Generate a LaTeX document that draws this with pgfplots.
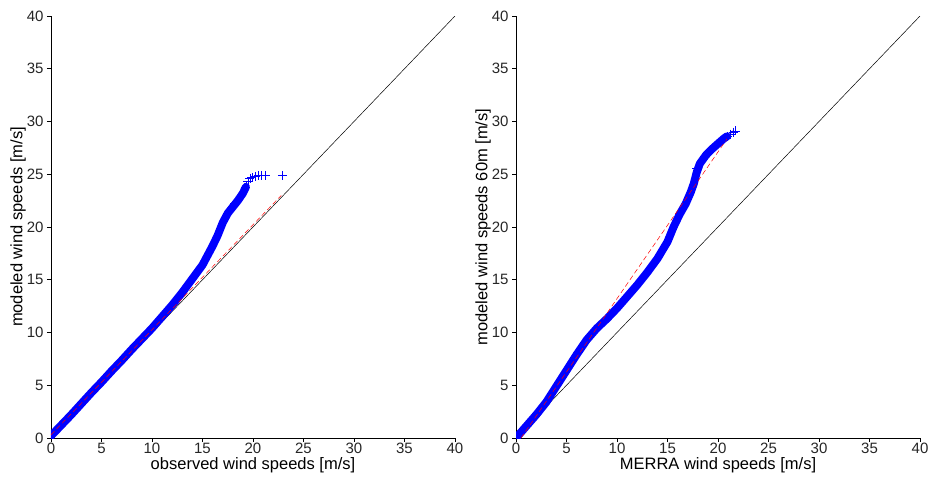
\documentclass[border=0pt]{standalone}
\usepackage{pgfplots}
\pgfplotsset{compat=1.18}
\usepackage{fontspec}
\setmainfont{Liberation Sans}

\pgfplotsset{
  qqstyle/.style={
    scale only axis,
    width=404pt, height=422pt,
    xmin=0, xmax=40, ymin=0, ymax=40,
    xtick={0,5,...,40}, ytick={0,5,...,40},
    axis x line*=bottom, axis y line*=left,
    axis line style={-, line width=0.6pt},
    tick align=outside, major tick length=4pt,
    tick style={line width=0.6pt, black},
    tick label style={font=\fontsize{15}{16}\selectfont, text=black!85},
    xticklabel style={inner sep=1pt},
    label style={font=\fontsize{16.5}{18}\selectfont},
    /pgf/number format/assume math mode=true,
    xlabel style={yshift=-2pt, inner sep=0.5pt},
    ylabel style={yshift=-6pt},
    clip=true,
  },
  band/.style={blue, line width=8pt, line join=round, line cap=round},
  crosses/.style={blue, only marks, mark=+, mark size=4.5pt, mark options={line width=0.8pt}},
}

\begin{document}
\begin{tikzpicture}
\begin{axis}[qqstyle, name=left,
  xlabel={observed wind speeds [m/s]},
  ylabel={modeled wind speeds [m/s]}]
  \addplot[black, line width=0.5pt] coordinates {(0,0) (40,40)};
  \addplot[band] coordinates {
    (0,0.2) (1,1.2) (2,2.2) (3,3.25) (4,4.3) (5,5.3) (6,6.35) (7,7.35) (8,8.4)
    (9,9.4) (10,10.4) (11,11.5) (12,12.6) (13,13.8) (14,15.1) (15,16.4)
    (16,18.2) (16.5,19.2) (17,20.4) (17.5,21.3) (18,21.9) (18.5,22.5)
    (19,23.2) (19.3,23.8)};
  \addplot[crosses] coordinates {
    (18.2,22.2) (18.8,22.9) (19.3,23.8) (19.5,24.3) (19.7,24.6) (19.9,24.7)
    (20.2,24.8) (20.5,24.85) (20.8,24.9) (21.2,24.9) (22.9,24.9)};
  \addplot[red, line width=0.5pt, dash pattern=on 5pt off 3pt] coordinates {(0,0.3) (22.8,23.0)};
\end{axis}

\begin{axis}[qqstyle, at={(465pt,0)},
  xlabel={MERRA wind speeds [m/s]},
  ylabel={modeled wind speeds 60m [m/s]}]
  \addplot[black, line width=0.5pt] coordinates {(0,0) (40,40)};
  \addplot[band] coordinates {
    (0,0) (1,1.1) (2,2.2) (3,3.4) (4,4.9) (5,6.4) (6,7.9) (7,9.3) (8,10.4)
    (9,11.3) (10,12.3) (11,13.4) (12,14.5) (13,15.7) (14,17.0) (15,18.6)
    (15.6,20.0) (16.2,21.2) (16.8,22.2) (17.3,23.3) (17.6,24.1) (17.9,25.2)
    (18.2,26.0) (18.8,26.8) (19.3,27.3) (20,27.9) (20.6,28.4) (20.9,28.6)};
  \addplot[crosses] coordinates {
    (17.9,25.6) (18.4,26.2) (19.0,27.0) (19.6,27.6) (20.3,28.2) (20.9,28.6)
    (21.2,28.8) (21.5,29.0) (21.7,29.1)};
  \addplot[red, line width=0.5pt, dash pattern=on 5pt off 3pt] coordinates {(0.5,0) (21.5,29.2)};
\end{axis}

\pgfresetboundingbox
\path (-51pt,-45pt) rectangle (879pt,438pt);
\end{tikzpicture}
\end{document}
